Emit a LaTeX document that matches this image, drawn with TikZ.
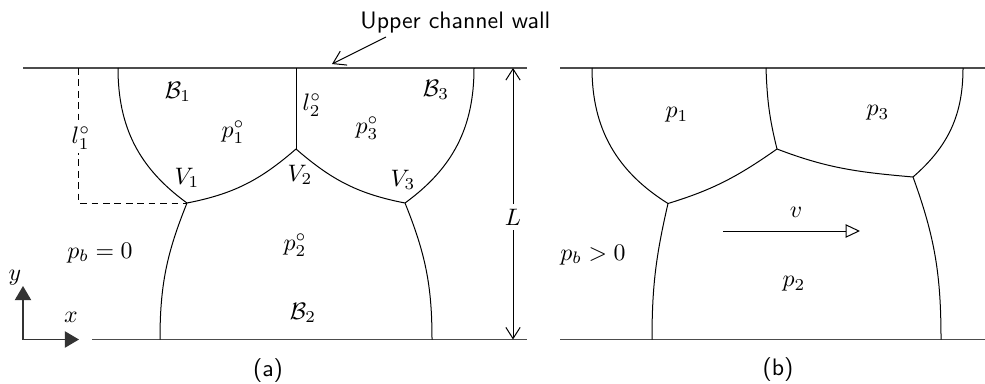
\documentclass[tikz,border=0pt]{standalone}
\usetikzlibrary{arrows.meta}
\begin{document}
\begin{tikzpicture}[x=0.42pt,y=0.42pt,
  wall/.style={draw=black!70, line width=0.65pt},
  film/.style={draw=black, line width=0.42pt},
  axisarrow/.style={draw=black!80, line width=0.55pt, -{Triangle[length=5.9pt,width=6.8pt]}},
  dimarrow/.style={draw=black, line width=0.42pt, {Straight Barb[length=4.7pt,width=6pt]}-{Straight Barb[length=4.7pt,width=6pt]}},
  pointer/.style={draw=black, line width=0.42pt, -{Straight Barb[length=5.1pt,width=6.5pt]}},
  velarrow/.style={draw=black, line width=0.42pt, -{Triangle[open,length=6pt,width=5.6pt]}},
  lbl/.style={inner sep=0pt},
  captext/.style={inner sep=0pt, font=\sffamily}]
\useasboundingbox (0,0) rectangle (985,383);

% ---------- panel (a) ----------
\coordinate (aTL) at (23,315);  \coordinate (aTR) at (527,315);
\coordinate (aBL) at (92,43.5); \coordinate (aBR) at (527,43.5);
\draw[wall] (aTL) -- (aTR);
\draw[wall] (aBL) -- (aBR);

\coordinate (T1) at (118,315);
\coordinate (T2) at (296,315);
\coordinate (T3) at (474,315);
\coordinate (V1) at (187,180);
\coordinate (V2) at (296,234);
\coordinate (V3) at (405,180);
\coordinate (B1) at (160,43.5);
\coordinate (B3) at (432,43.5);

\draw[film] (T1) to[out=-90,in=144] (V1);
\draw[film] (V1) to[out=11,in=221] (V2);
\draw[film] (V2) to[out=-41,in=169] (V3);
\draw[film] (V3) to[out=36,in=-90] (T3);
\draw[film] (V2) -- (T2);
\draw[film] (V1) to[out=-112,in=90] (B1);
\draw[film] (V3) to[out=-68,in=90] (B3);

% dashed guide
\coordinate (dTop) at (78,315);
\coordinate (dCorner) at (78,180);
\draw[film, dash pattern=on 2.8pt off 2pt] (dTop) -- (dCorner) -- (V1);

% L dimension
\coordinate (Ltop) at (513,315);
\coordinate (Lbot) at (513,43.5);
\draw[dimarrow] (Ltop) -- node[pos=0.55, fill=white, inner sep=2pt] (Llbl) {$L$} (Lbot);

% axes
\coordinate (O) at (23,43.5);
\coordinate (Ytip) at (23,97);
\coordinate (Xtip) at (79,43.5);
\draw[axisarrow] (O) -- (Ytip);
\draw[axisarrow] (O) -- (Xtip);
\node[lbl] (ylbl) at (15,105) {$y$};
\node[lbl] (xlbl) at (71,66) {$x$};

% upper wall pointer
\node[captext, anchor=base west] (wallTxt) at (360,355) {Upper channel wall};
\coordinate (wTail) at (386,346);
\coordinate (wTip) at (332,319);
\draw[pointer] (wTail) -- (wTip);

% labels (a)
\node[lbl, fill=white, inner sep=1.5pt] (l1) at (81,245) {$l_1^\circ$};
\node[lbl] (Bc1) at (178,291) {$\mathcal{B}_1$};
\node[lbl] (pa1) at (233,251) {$p_1^\circ$};
\node[lbl] (l2) at (312,278) {$l_2^\circ$};
\node[lbl] (pa3) at (367,255) {$p_3^\circ$};
\node[lbl] (Bc3) at (436,293) {$\mathcal{B}_3$};
\node[lbl] (V1l) at (187,205) {$V_1$};
\node[lbl] (V2l) at (300,208) {$V_2$};
\node[lbl] (V3l) at (403,203) {$V_3$};
\node[lbl] (pb0) at (100,130) {$p_b=0$};
\node[lbl] (pa2) at (295,138) {$p_2^\circ$};
\node[lbl] (Bc2) at (303,70) {$\mathcal{B}_2$};
\node[captext] (capa) at (268,12) {(a)};

% ---------- panel (b) ----------
\coordinate (bTL) at (560,315);  \coordinate (bTR) at (985,315);
\coordinate (bBL) at (560,43.5); \coordinate (bBR) at (985,43.5);
\draw[wall] (bTL) -- (bTR);
\draw[wall] (bBL) -- (bBR);

\coordinate (S1) at (592,315);
\coordinate (S2) at (766,315);
\coordinate (S3) at (963,315);
\coordinate (W1) at (668,179.5);
\coordinate (W2) at (777,234);
\coordinate (W3) at (913,206);
\coordinate (R1) at (652,43.5);
\coordinate (R3) at (941,43.5);

\draw[film] (S1) to[out=-90,in=148] (W1);
\draw[film] (W1) to[out=17,in=215] (W2);
\draw[film] (W2) to[out=104,in=-88] (S2);
\draw[film] (W2) to[out=-21,in=175] (W3);
\draw[film] (W3) to[out=41,in=-90] (S3);
\draw[film] (W1) to[out=-103,in=90] (R1);
\draw[film] (W3) to[out=-70,in=90] (R3);

\coordinate (vTail) at (723,152);
\coordinate (vTip) at (860,152);
\draw[velarrow] (vTail) -- (vTip);
\node[lbl] (vlbl) at (796,171) {$v$};

\node[lbl] (pb1) at (677,268) {$p_1$};
\node[lbl] (pb3) at (878,270) {$p_3$};
\node[lbl] (pbg) at (593,128) {$p_b>0$};
\node[lbl] (pb2) at (794,99) {$p_2$};
\node[captext] (capb) at (778,13) {(b)};
\end{tikzpicture}
\end{document}
